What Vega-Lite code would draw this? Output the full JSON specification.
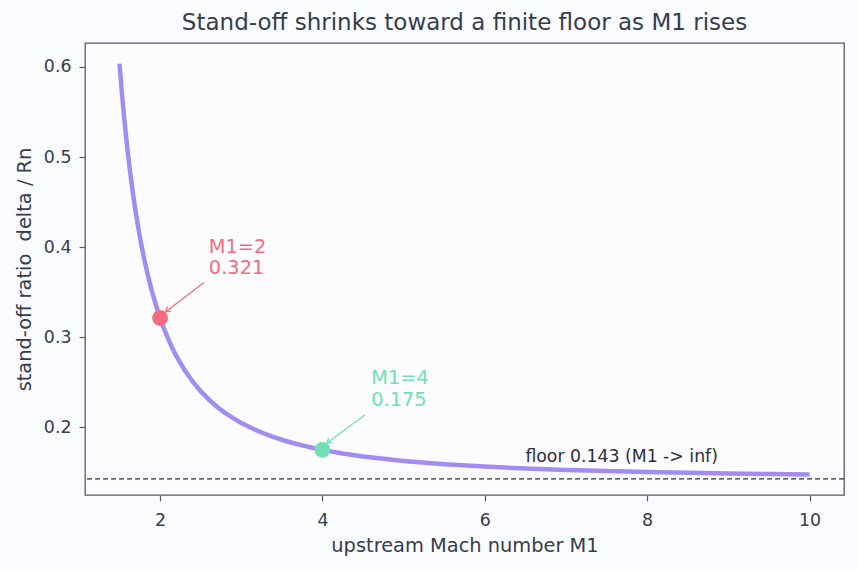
{
  "$schema": "https://vega.github.io/schema/vega-lite/v6.json",
  "width": 759,
  "height": 452,
  "autosize": {"type": "none"},
  "padding": {"left": 85, "top": 43, "right": 14, "bottom": 74},
  "background": "#fafbfe",
  "title": {"text": "Stand-off shrinks toward a finite floor as M1 rises", "font": "DejaVu Sans", "fontSize": 23, "fontWeight": "normal", "color": "#363c4c", "offset": 8},
  "config": {
    "font": "DejaVu Sans",
    "view": {"stroke": "#565b68", "strokeWidth": 1.3, "fill": "#fcfcff"},
    "axis": {"grid": false, "domain": false, "tickColor": "#565b68", "tickSize": 6, "tickWidth": 1.2, "labelColor": "#363c4c", "titleColor": "#363c4c", "labelFontSize": 17.4, "titleFontSize": 19.4, "titleFontWeight": "normal"}
  },
  "datasets": {
    "curve": [
      {"M1": 1.5, "ratio": 0.6036}, {"M1": 1.525, "ratio": 0.5759}, {"M1": 1.55, "ratio": 0.5508}, {"M1": 1.575, "ratio": 0.5280},
      {"M1": 1.6, "ratio": 0.5070}, {"M1": 1.625, "ratio": 0.4878}, {"M1": 1.65, "ratio": 0.4701}, {"M1": 1.675, "ratio": 0.4538},
      {"M1": 1.7, "ratio": 0.4388}, {"M1": 1.725, "ratio": 0.4249}, {"M1": 1.75, "ratio": 0.4119}, {"M1": 1.775, "ratio": 0.3999},
      {"M1": 1.8, "ratio": 0.3887}, {"M1": 1.85, "ratio": 0.3685}, {"M1": 1.9, "ratio": 0.3509}, {"M1": 1.95, "ratio": 0.3353},
      {"M1": 2.0, "ratio": 0.3214}, {"M1": 2.05, "ratio": 0.3092}, {"M1": 2.1, "ratio": 0.2982}, {"M1": 2.15, "ratio": 0.2882},
      {"M1": 2.2, "ratio": 0.2793}, {"M1": 2.3, "ratio": 0.2638}, {"M1": 2.4, "ratio": 0.2510}, {"M1": 2.5, "ratio": 0.2402},
      {"M1": 2.6, "ratio": 0.2309}, {"M1": 2.7, "ratio": 0.2230}, {"M1": 2.8, "ratio": 0.2162}, {"M1": 2.9, "ratio": 0.2102},
      {"M1": 3.0, "ratio": 0.2050}, {"M1": 3.125, "ratio": 0.1993}, {"M1": 3.25, "ratio": 0.1943}, {"M1": 3.375, "ratio": 0.1900},
      {"M1": 3.5, "ratio": 0.1863}, {"M1": 3.625, "ratio": 0.1830}, {"M1": 3.75, "ratio": 0.1801}, {"M1": 3.875, "ratio": 0.1774},
      {"M1": 4.0, "ratio": 0.1751}, {"M1": 4.25, "ratio": 0.1711}, {"M1": 4.5, "ratio": 0.1678}, {"M1": 4.75, "ratio": 0.1651},
      {"M1": 5.0, "ratio": 0.1628}, {"M1": 5.5, "ratio": 0.1592}, {"M1": 6.0, "ratio": 0.1565}, {"M1": 6.5, "ratio": 0.1544},
      {"M1": 7.0, "ratio": 0.1528}, {"M1": 7.5, "ratio": 0.1515}, {"M1": 8.0, "ratio": 0.1504}, {"M1": 8.5, "ratio": 0.1496},
      {"M1": 9.0, "ratio": 0.1488}, {"M1": 9.5, "ratio": 0.1482}, {"M1": 10.0, "ratio": 0.1477}
    ],
    "marks": [
      {"M1": 2, "ratio": 0.3214, "label": ["M1=2", "0.321"], "tx": 2.6, "ty": 0.394, "ax": 2.541, "ay": 0.3608, "hx": 2.07, "hy": 0.3283, "angle": 232, "key": "a"},
      {"M1": 4, "ratio": 0.1751, "label": ["M1=4", "0.175"], "tx": 4.6, "ty": 0.2483, "ax": 4.527, "ay": 0.214, "hx": 4.055, "hy": 0.1827, "angle": 233, "key": "b"}
    ],
    "floor": [{"y": 0.143, "tx": 6.5, "ty": 0.1615, "label": "floor 0.143 (M1 -> inf)"}]
  },
  "layer": [
    {
      "data": {"name": "floor"},
      "mark": {"type": "rule", "color": "#2a2f3a", "strokeWidth": 1.2, "strokeDash": [5, 3]},
      "encoding": {"y": {"field": "y", "type": "quantitative"}}
    },
    {
      "data": {"name": "floor"},
      "mark": {"type": "text", "align": "left", "baseline": "alphabetic", "fontSize": 17.3, "color": "#2a2f3a"},
      "encoding": {"x": {"field": "tx", "type": "quantitative"}, "y": {"field": "ty", "type": "quantitative"}, "text": {"field": "label"}}
    },
    {
      "data": {"name": "curve"},
      "mark": {"type": "line", "color": "#a28cf2", "strokeWidth": 4.5},
      "encoding": {
        "x": {"field": "M1", "type": "quantitative", "scale": {"domain": [1.075, 10.425], "nice": false, "zero": false}, "axis": {"values": [2, 4, 6, 8, 10], "format": "d", "title": "upstream Mach number M1", "labelPadding": 10, "titlePadding": 8}},
        "y": {"field": "ratio", "type": "quantitative", "scale": {"domain": [0.125, 0.6265], "nice": false, "zero": false}, "axis": {"values": [0.2, 0.3, 0.4, 0.5, 0.6], "format": ".1f", "title": "stand-off ratio \u00a0delta / Rn", "labelPadding": 8, "titlePadding": 9}}
      }
    },
    {
      "data": {"name": "marks"},
      "mark": {"type": "rule", "strokeWidth": 1.3},
      "encoding": {
        "x": {"field": "ax", "type": "quantitative"}, "y": {"field": "ay", "type": "quantitative"},
        "x2": {"field": "hx"}, "y2": {"field": "hy"},
        "color": {"field": "key", "type": "nominal", "scale": {"domain": ["a", "b"], "range": ["#f56b7d", "#6fe0b2"]}, "legend": null}
      }
    },
    {
      "data": {"name": "marks"},
      "mark": {"type": "point", "shape": "M -0.6 0.9 L 0 0 L 0.6 0.9", "filled": false, "strokeWidth": 1.3, "size": 100, "opacity": 1},
      "encoding": {
        "x": {"field": "hx", "type": "quantitative"}, "y": {"field": "hy", "type": "quantitative"},
        "angle": {"field": "angle", "type": "quantitative", "scale": null},
        "color": {"field": "key", "type": "nominal", "legend": null}
      }
    },
    {
      "data": {"name": "marks"},
      "mark": {"type": "circle", "size": 250, "opacity": 1},
      "encoding": {
        "x": {"field": "M1", "type": "quantitative"}, "y": {"field": "ratio", "type": "quantitative"},
        "color": {"field": "key", "type": "nominal", "legend": null}
      }
    },
    {
      "data": {"name": "marks"},
      "mark": {"type": "text", "align": "left", "baseline": "alphabetic", "fontSize": 19.4, "lineHeight": 21.7},
      "encoding": {
        "x": {"field": "tx", "type": "quantitative"}, "y": {"field": "ty", "type": "quantitative"},
        "text": {"field": "label"},
        "color": {"field": "key", "type": "nominal", "legend": null}
      }
    }
  ]
}
